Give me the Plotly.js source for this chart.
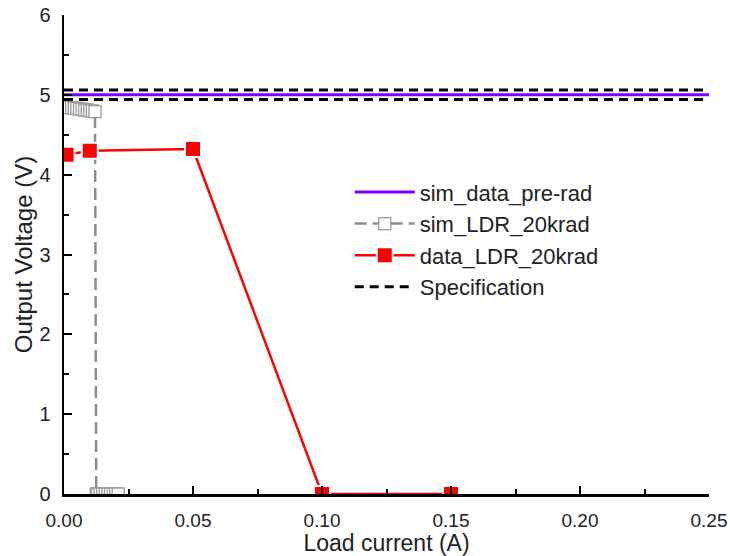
<!DOCTYPE html>
<html>
<head>
<meta charset="utf-8">
<script src="https://cdn.plot.ly/plotly-3.0.1.min.js"></script>
<style>html,body{margin:0;padding:0;background:#fff;}</style>
</head>
<body>
<div id="chart" style="width:730px;height:556px;"></div>
<script>
// pre-rad simulation
const preX = [0, 0.25];
const preY = [5.0, 5.0];
// simulation LDR 20 krad
const simX = [0, 0.001, 0.002, 0.003, 0.004, 0.005, 0.006, 0.007, 0.008, 0.009, 0.010, 0.011, 0.012,
              0.0125, 0.013, 0.014, 0.015, 0.016, 0.017, 0.018, 0.019, 0.020, 0.021];
const simY = [4.85, 4.85, 4.84, 4.84, 4.83, 4.83, 4.82, 4.82, 4.81, 4.81, 4.80, 4.80, 4.79,
              0, 0, 0, 0, 0, 0, 0, 0, 0, 0];
// measured data LDR 20 krad
const dataX = [0.001, 0.01, 0.05, 0.10, 0.15];
const dataY = [4.25, 4.30, 4.32, 0, 0];
// specification limits
const specX = [0, 0.25];
const specHi = [5.06, 5.06];
const specLo = [4.94, 4.94];

const traces = [
  {x: preX, y: preY, mode: 'lines', name: 'sim_data_pre-rad',
   line: {color: '#7f00ff', width: 3}},
  {x: simX, y: simY, mode: 'lines+markers', name: 'sim_LDR_20krad',
   line: {color: '#8c8c8c', width: 2.5, dash: '12px,6px'},
   marker: {symbol: 'square', size: 12, color: '#ffffff', line: {color: '#9a9a9a', width: 1.3}}},
  {x: dataX, y: dataY, mode: 'lines+markers', name: 'data_LDR_20krad',
   line: {color: '#ff0000', width: 2.5},
   marker: {symbol: 'square', size: 16, color: '#ff0000', line: {color: '#ffffff', width: 2}}},
  {x: specX, y: specHi, mode: 'lines', name: 'Specification', legendgroup: 'spec',
   line: {color: '#000000', width: 3, dash: '9px,6px'}},
  {x: specX, y: specLo, mode: 'lines', name: 'Specification', legendgroup: 'spec', showlegend: false,
   line: {color: '#000000', width: 3, dash: '9px,6px'}}
];

const fontFam = 'Liberation Sans, Arial, sans-serif';
const layout = {
  width: 730, height: 556,
  margin: {l: 64, r: 21, t: 15, b: 62},
  paper_bgcolor: '#ffffff', plot_bgcolor: '#ffffff',
  font: {family: fontFam, color: '#222222', size: 18},
  showlegend: true,
  legend: {x: 0.443, y: 0.674, xanchor: 'left', yanchor: 'top',
           font: {family: fontFam, size: 22, color: '#222222'},
           bgcolor: 'rgba(0,0,0,0)', tracegroupgap: 0, itemwidth: 60},
  xaxis: {
    range: [0, 0.25], dtick: 0.05, tickformat: '.2f',
    showgrid: false, zeroline: false,
    showline: true, linecolor: '#000', linewidth: 2.5,
    ticks: 'inside', ticklen: 8, tickwidth: 2, tickcolor: '#000',
    minor: {dtick: 0.025, ticks: 'inside', ticklen: 5, tickwidth: 2, tickcolor: '#000'},
    tickfont: {size: 19, family: fontFam, color: '#222'},
    ticklabelstandoff: 8,
    title: {text: 'Load current (A)', font: {size: 23, family: fontFam, color: '#222'}, standoff: 10}
  },
  yaxis: {
    range: [0, 6], dtick: 1,
    showgrid: false, zeroline: false,
    showline: true, linecolor: '#000', linewidth: 2.5,
    ticks: 'inside', ticklen: 8, tickwidth: 2, tickcolor: '#000',
    minor: {dtick: 0.5, ticks: 'inside', ticklen: 5, tickwidth: 2, tickcolor: '#000'},
    tickfont: {size: 20, family: fontFam, color: '#222'},
    ticklabelstandoff: 7,
    title: {text: 'Output Voltage (V)', font: {size: 24, family: fontFam, color: '#222'}, standoff: 0}
  }
};

Plotly.newPlot('chart', traces, layout, {displayModeBar: false, staticPlot: true});
</script>
</body>
</html>
